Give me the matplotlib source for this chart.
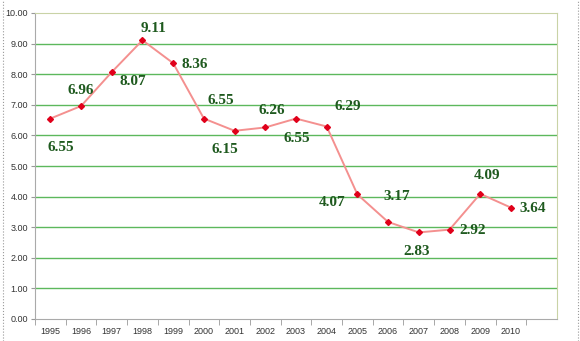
import numpy as np
import matplotlib.pyplot as plt
from matplotlib.lines import Line2D

# data
years = [str(y) for y in range(1995, 2011)]
values = [6.55, 6.96, 8.07, 9.11, 8.36, 6.55, 6.15, 6.26, 6.55, 6.29,
          4.07, 3.17, 2.83, 2.92, 4.09, 3.64]
# hand-placed label offsets in pixels (dx, dy) as in the original
label_offsets = [(10, -29), (0, 16), (21, -9), (11, 12), (22, -1), (17, 18),
                 (-10, -19), (7, 17), (1, -20), (21, 20), (-25, -8), (9, 25),
                 (-2, -19), (23, -1), (7, 18), (22, -1)]

fig = plt.figure(figsize=(5.8, 3.41), dpi=100)
ax = fig.add_axes([35 / 580, 22 / 341, 522 / 580, 306 / 341])

x = np.arange(len(years))
ax.plot(x, values, color='#f4908f', linewidth=1.4, zorder=3)
ax.plot(x, values, linestyle='none', marker='D', markersize=3,
        color='#e0001a', zorder=4)

for xi, v, (dx, dy) in zip(x, values, label_offsets):
    ax.annotate(f'{v:.2f}', (xi, v), xytext=(dx, dy), textcoords='offset pixels',
                ha='center', va='center', fontsize=11, fontweight='bold',
                family='Liberation Serif', color='#1f5a1f', zorder=5)

ax.set_xlim(-0.5, len(years) + 0.5)
ax.set_ylim(0, 10)
ax.set_yticks(np.arange(0, 11, 1))
ax.set_yticklabels([f'{t:.2f}' for t in range(0, 11)])
ax.set_xticks(x)
ax.set_xticklabels(years)
ax.set_xticks(np.arange(-0.5, len(years) + 0.5, 1), minor=True)
ax.tick_params(axis='x', which='major', length=0, labelsize=6.5,
               colors='#333333', pad=6)
ax.tick_params(axis='x', which='minor', length=4, color='#999999')
ax.tick_params(axis='y', length=3, color='#999999', labelsize=6.5,
               labelcolor='#333333', pad=2)
for lbl in ax.get_xticklabels() + ax.get_yticklabels():
    lbl.set_family('Liberation Sans')

for yv in range(1, 10):
    ax.axhline(yv, color='#5cb85c', linewidth=1.0, zorder=1)

for side in ['left', 'bottom']:
    ax.spines[side].set_color('#aaaaaa')
for side in ['top', 'right']:
    ax.spines[side].set_color('#c9d3a6')

# dotted outer frame
for xf in [3 / 580, 578 / 580]:
    fig.add_artist(Line2D([xf, xf], [0, 1], transform=fig.transFigure,
                          color='#999999', linestyle=':', linewidth=0.8))

fig.savefig('out.png', dpi=100)
